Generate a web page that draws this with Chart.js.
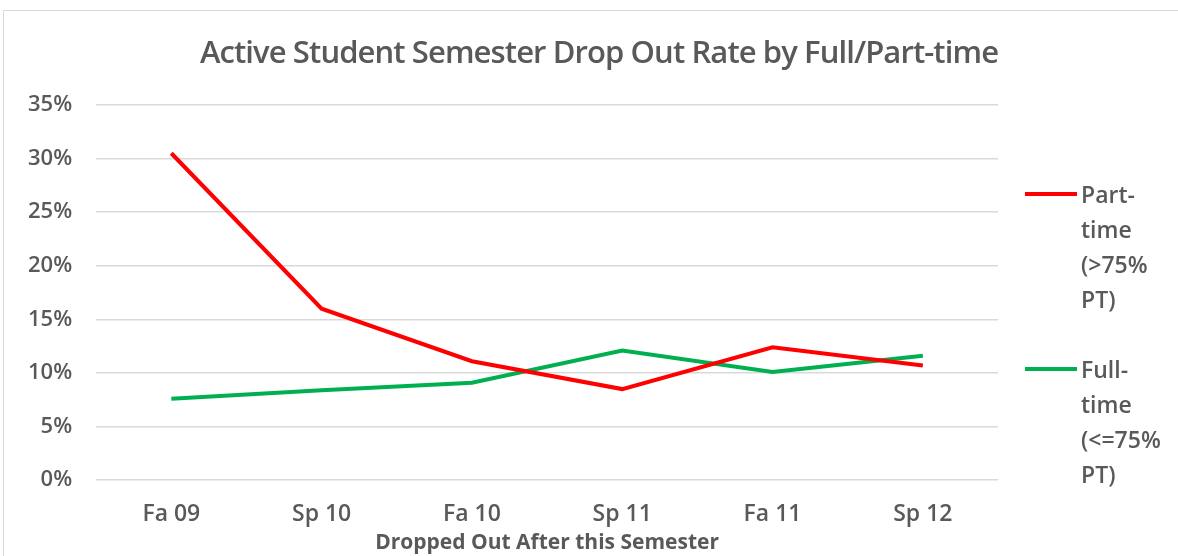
<!DOCTYPE html>
<html>
<head>
<meta charset="utf-8">
<script src="https://cdn.jsdelivr.net/npm/chart.js@4.4.2/dist/chart.umd.min.js"></script>
<style>
    body { margin: 0; background: #fff; width: 1178px; height: 556px; overflow: hidden; position: relative; font-family: "Open Sans", sans-serif; }
    #frame { position: absolute; left: 3px; top: 10px; width: 1200px; height: 600px; border: 1.5px solid #d9d9d9; }
    #title { position: absolute; left: 0; width: 1198px; top: 30px; text-align: center; font-size: 31px; font-weight: 600; color: #595959; letter-spacing: -0.9px; }
    #chart { position: absolute; left: 0; top: 0; }
    .leg { position: absolute; left: 1025px; color: #595959; font-size: 23px; font-weight: 600; line-height: 35px; }
    .leg .swatch { position: absolute; left: 0; top: 15px; width: 52px; height: 4px; }
    .leg .txt { position: absolute; left: 56px; top: 0; width: 100px; }
</style>
</head>
<body>
<div id="frame"></div>
<canvas id="chart" width="1178" height="556"></canvas>
<div id="title">Active Student Semester Drop Out Rate by Full/Part-time</div>
<div id="legend"></div>
<script>
// Données
const semesters = ['Fa 09', 'Sp 10', 'Fa 10', 'Sp 11', 'Fa 11', 'Sp 12'];
const partTime = [0.305, 0.160, 0.111, 0.085, 0.124, 0.107];
const fullTime = [0.076, 0.084, 0.091, 0.121, 0.101, 0.116];
const seriesNames = [['Part-', 'time', '(>75%', 'PT)'], ['Full-', 'time', '(<=75%', 'PT)']];
const yTicks = [0, 0.05, 0.10, 0.15, 0.20, 0.25, 0.30, 0.35];

const colorPart = '#ff0000';
const colorFull = '#00b050';
const textColor = '#595959';

const ctx = document.getElementById('chart').getContext('2d');
const chart = new Chart(ctx, {
    type: 'line',
    data: {
        labels: semesters,
        datasets: [
            { label: seriesNames[0].join(' '), data: partTime, borderColor: colorPart, backgroundColor: colorPart, borderWidth: 4, pointRadius: 0, tension: 0 },
            { label: seriesNames[1].join(' '), data: fullTime, borderColor: colorFull, backgroundColor: colorFull, borderWidth: 4, pointRadius: 0, tension: 0 }
        ]
    },
    options: {
        responsive: false,
        animation: false,
        layout: { padding: { left: 4, right: 180, top: 105, bottom: 0 } },
        plugins: { legend: { display: false }, title: { display: false }, tooltip: { enabled: false } },
        scales: {
            x: {
                offset: true,
                grid: { display: false, drawTicks: false },
                border: { display: false },
                ticks: { color: textColor, font: { family: 'Open Sans', size: 23, weight: '600' }, padding: 20, maxRotation: 0 },
                title: { display: true, text: 'Dropped Out After this Semester', color: textColor, font: { family: 'Open Sans', size: 21, weight: 'bold' }, padding: { top: -17, bottom: 0 } }
            },
            y: {
                min: 0,
                max: 0.35,
                afterBuildTicks: axis => { axis.ticks = yTicks.map(v => ({ value: v })); },
                grid: { color: '#d9d9d9', lineWidth: 1.5, drawTicks: false },
                border: { display: false },
                ticks: { color: textColor, font: { family: 'Open Sans', size: 22, weight: '600' }, padding: 24, callback: v => Math.round(v * 100) + '%' }
            }
        }
    }
});

// Légende HTML (libellés sur plusieurs lignes)
const legendTops = [177, 352];
const legendEl = document.getElementById('legend');
chart.data.datasets.forEach((ds, i) => {
    const item = document.createElement('div');
    item.className = 'leg';
    item.style.top = legendTops[i] + 'px';
    item.innerHTML = `<div class="swatch" style="background:${ds.borderColor}"></div><div class="txt">${seriesNames[i].join('<br>')}</div>`;
    legendEl.appendChild(item);
});
</script>
</body>
</html>
